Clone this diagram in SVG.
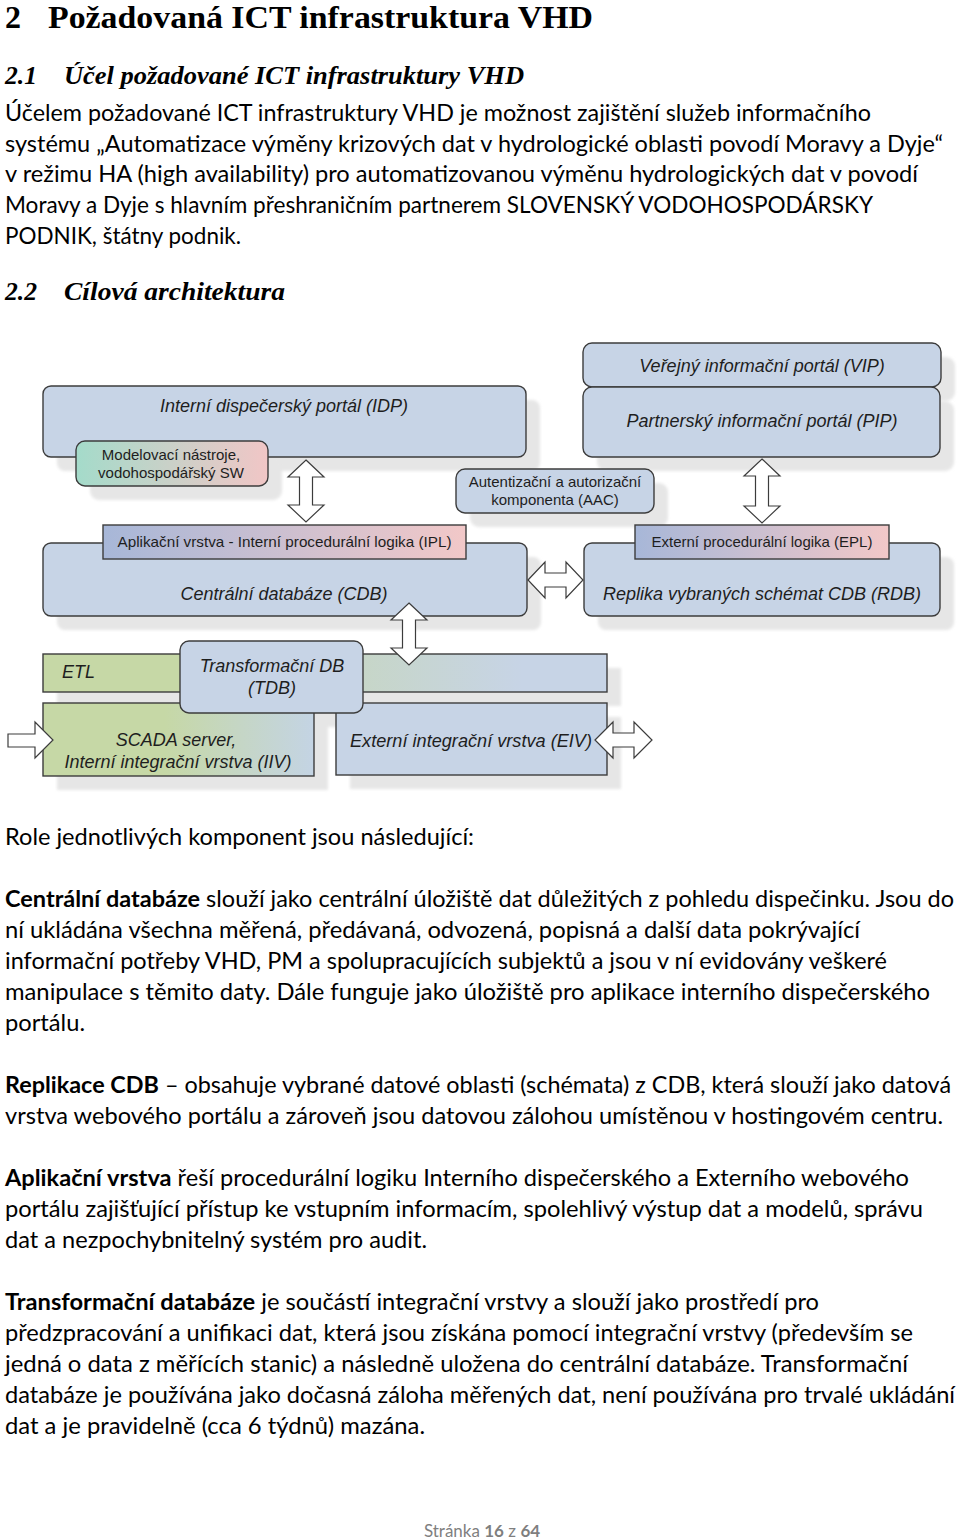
<svg xmlns="http://www.w3.org/2000/svg" width="960" height="1539" viewBox="0 0 960 1539">
<style>
.h1{font-family:"Liberation Serif",serif;font-weight:bold;font-size:32px;fill:#000}
.h2{font-family:"Liberation Serif",serif;font-weight:bold;font-style:italic;font-size:26px;fill:#000}
.b{font-family:Lato,"Liberation Sans",sans-serif;font-size:22.5px;fill:#000}
.bb{font-weight:bold}
.ft{font-family:Lato,"Liberation Sans",sans-serif;font-size:17px;fill:#7f7f7f}
.node{stroke:#3c3c3c;stroke-width:1.4}
.blue{fill:#c7d4e6}
.sh{fill:#e6e6e6;filter:url(#blur)}
.it{font-family:"Liberation Sans",Arial,sans-serif;font-style:italic;font-size:18px;fill:#1e1e1e}
.sm{font-family:"Liberation Sans",Arial,sans-serif;font-size:15px;fill:#1e1e1e}
.arr{fill:#fff;stroke:#3c3c3c;stroke-width:1.2;stroke-linejoin:miter}
</style>
<defs>
<filter id="blur" x="-10%" y="-10%" width="120%" height="120%"><feGaussianBlur stdDeviation="1.5"/></filter>
<linearGradient id="gMod" x1="0" y1="0" x2="1" y2="0"><stop offset="0" stop-color="#a4dbca"/><stop offset="1" stop-color="#f1c6c6"/></linearGradient>
<linearGradient id="gLog" x1="0" y1="0" x2="1" y2="0"><stop offset="0" stop-color="#a7b7d8"/><stop offset="1" stop-color="#f2c8c8"/></linearGradient>
<linearGradient id="gEtl" x1="0" y1="0" x2="1" y2="0"><stop offset="0" stop-color="#c6d8a6"/><stop offset="0.25" stop-color="#c6d8a6"/><stop offset="0.85" stop-color="#c7d4e6"/><stop offset="1" stop-color="#c7d4e6"/></linearGradient>
<linearGradient id="gSc" x1="0" y1="0" x2="1" y2="0"><stop offset="0" stop-color="#c6d8a6"/><stop offset="0.45" stop-color="#c6d8a6"/><stop offset="1" stop-color="#c4d4e4"/></linearGradient>
</defs>

<!-- headings and first paragraph -->
<text class="h1" x="5" y="28">2</text>
<text class="h1" x="48" y="28" textLength="545" lengthAdjust="spacingAndGlyphs">Požadovaná ICT infrastruktura VHD</text>
<text class="h2" x="5" y="84" textLength="32" lengthAdjust="spacingAndGlyphs">2.1</text>
<text class="h2" x="64" y="84" textLength="460" lengthAdjust="spacingAndGlyphs">Účel požadované ICT infrastruktury VHD</text>
<text class="b" x="5" y="121" textLength="866" lengthAdjust="spacingAndGlyphs">Účelem požadované ICT infrastruktury VHD je možnost zajištění služeb informačního</text>
<text class="b" x="5" y="152" textLength="938" lengthAdjust="spacingAndGlyphs">systému „Automatizace výměny krizových dat v hydrologické oblasti povodí Moravy a Dyje“</text>
<text class="b" x="5" y="182" textLength="913" lengthAdjust="spacingAndGlyphs">v režimu HA (high availability) pro automatizovanou výměnu hydrologických dat v povodí</text>
<text class="b" x="5" y="213" textLength="868" lengthAdjust="spacingAndGlyphs">Moravy a Dyje s hlavním přeshraničním partnerem SLOVENSKÝ VODOHOSPODÁRSKY</text>
<text class="b" x="5" y="244" textLength="236" lengthAdjust="spacingAndGlyphs">PODNIK, štátny podnik.</text>
<text class="h2" x="5" y="300" textLength="32" lengthAdjust="spacingAndGlyphs">2.2</text>
<text class="h2" x="64" y="300" textLength="221" lengthAdjust="spacingAndGlyphs">Cílová architektura</text>

<!-- shadows -->
<g id="shadows">
<rect class="sh" x="597" y="357" width="358" height="44" rx="9"/>
<rect class="sh" x="597" y="401" width="357" height="70" rx="9"/>
<rect class="sh" x="57" y="400" width="483" height="71" rx="8"/>
<rect class="sh" x="90" y="455" width="192" height="45" rx="9"/>
<rect class="sh" x="470" y="483" width="198" height="44" rx="9"/>
<rect class="sh" x="57" y="557" width="484" height="73" rx="8"/>
<rect class="sh" x="598" y="557" width="356" height="73" rx="8"/>
<rect class="sh" x="57" y="668" width="564" height="38"/>
<rect class="sh" x="194" y="655" width="183" height="72" rx="9"/>
<rect class="sh" x="57" y="717" width="271" height="73"/>
<rect class="sh" x="350" y="717" width="271" height="72"/>
</g>

<!-- nodes -->
<g id="vip"><rect class="node blue" x="583" y="343" width="358" height="44" rx="9"/><text class="it" x="762" y="372" text-anchor="middle">Veřejný informační portál (VIP)</text></g>
<g id="pip"><rect class="node blue" x="583" y="387" width="357" height="70" rx="9"/><text class="it" x="762" y="427" text-anchor="middle">Partnerský informační portál (PIP)</text></g>
<g id="idp"><rect class="node blue" x="43" y="386" width="483" height="71" rx="8"/><text class="it" x="284" y="412" text-anchor="middle">Interní dispečerský portál (IDP)</text></g>
<g id="mod"><rect class="node" fill="url(#gMod)" x="76" y="441" width="192" height="45" rx="9"/><text class="sm" x="171" y="460" text-anchor="middle">Modelovací nástroje,</text><text class="sm" x="171" y="478" text-anchor="middle">vodohospodářský SW</text></g>
<g id="aac"><rect class="node blue" x="456" y="469" width="198" height="44" rx="9"/><text class="sm" x="555" y="487" text-anchor="middle">Autentizační a autorizační</text><text class="sm" x="555" y="505" text-anchor="middle">komponenta (AAC)</text></g>
<g id="cdb"><rect class="node blue" x="43" y="543" width="484" height="73" rx="8"/><text class="it" x="284" y="600" text-anchor="middle">Centrální databáze (CDB)</text></g>
<g id="ipl"><rect class="node" fill="url(#gLog)" x="103" y="525" width="363" height="34"/><text class="sm" x="284.5" y="547" text-anchor="middle" textLength="334" lengthAdjust="spacingAndGlyphs">Aplikační vrstva - Interní procedurální logika (IPL)</text></g>
<g id="rdb"><rect class="node blue" x="584" y="543" width="356" height="73" rx="8"/><text class="it" x="762" y="600" text-anchor="middle">Replika vybraných schémat CDB (RDB)</text></g>
<g id="epl"><rect class="node" fill="url(#gLog)" x="635" y="525" width="254" height="34"/><text class="sm" x="762" y="547" text-anchor="middle">Externí procedurální logika (EPL)</text></g>
<g id="etl"><rect class="node" fill="url(#gEtl)" x="43" y="654" width="564" height="38"/><text class="it" x="62" y="678">ETL</text></g>
<g id="scada"><rect class="node" fill="url(#gSc)" x="43" y="703" width="271" height="73"/><text class="it" x="176" y="746" text-anchor="middle">SCADA server,</text><text class="it" x="178" y="768" text-anchor="middle">Interní integrační vrstva (IIV)</text></g>
<g id="eiv"><rect class="node blue" x="336" y="703" width="271" height="72"/><text class="it" x="350" y="747" textLength="242" lengthAdjust="spacingAndGlyphs">Externí integrační vrstva (EIV)</text></g>
<g id="tdb"><rect class="node blue" x="180" y="641" width="183" height="72" rx="9"/><text class="it" x="272" y="672" text-anchor="middle">Transformační DB</text><text class="it" x="272" y="694" text-anchor="middle">(TDB)</text></g>

<!-- connectors -->
<g id="connectors">
<path class="arr" d="M306,460 L324,477 L312.5,477 L312.5,505 L324,505 L306,522 L288,505 L299.5,505 L299.5,477 L288,477 Z"/>
<path class="arr" d="M762,459 L780,476 L768.5,476 L768.5,506 L780,506 L762,523 L744,506 L755.5,506 L755.5,476 L744,476 Z"/>
<path class="arr" d="M528,580 L545,562 L545,573 L566,573 L566,562 L583,580 L566,598 L566,587 L545,587 L545,598 Z"/>
<path class="arr" d="M409,603 L427,620 L415.5,620 L415.5,648 L427,648 L409,665 L391,648 L402.5,648 L402.5,620 L391,620 Z"/>
<path class="arr" d="M8,734 L35,734 L35,722 L53,740 L35,758 L35,747 L8,747 Z"/>
<path class="arr" d="M595,740 L613,722 L613,733 L634,733 L634,722 L652,740 L634,758 L634,747 L613,747 L613,758 Z"/>
</g>

<!-- body text -->
<text class="b" x="5" y="845" textLength="469" lengthAdjust="spacingAndGlyphs">Role jednotlivých komponent jsou následující:</text>
<text class="b" x="5" y="907" textLength="949" lengthAdjust="spacingAndGlyphs"><tspan class="bb">Centrální databáze</tspan> slouží jako centrální úložiště dat důležitých z pohledu dispečinku. Jsou do</text>
<text class="b" x="5" y="938" textLength="855" lengthAdjust="spacingAndGlyphs">ní ukládána všechna měřená, předávaná, odvozená, popisná a další data pokrývající</text>
<text class="b" x="5" y="969" textLength="882" lengthAdjust="spacingAndGlyphs">informační potřeby VHD, PM a spolupracujících subjektů a jsou v ní evidovány veškeré</text>
<text class="b" x="5" y="1000" textLength="925" lengthAdjust="spacingAndGlyphs">manipulace s těmito daty.  Dále funguje jako úložiště pro aplikace interního dispečerského</text>
<text class="b" x="5" y="1031" textLength="80" lengthAdjust="spacingAndGlyphs">portálu.</text>
<text class="b" x="5" y="1093" textLength="946" lengthAdjust="spacingAndGlyphs"><tspan class="bb">Replikace CDB</tspan> – obsahuje vybrané datové oblasti (schémata) z CDB, která slouží jako datová</text>
<text class="b" x="5" y="1124" textLength="938" lengthAdjust="spacingAndGlyphs">vrstva webového portálu a zároveň jsou datovou zálohou umístěnou v hostingovém centru.</text>
<text class="b" x="5" y="1186" textLength="904" lengthAdjust="spacingAndGlyphs"><tspan class="bb">Aplikační vrstva</tspan> řeší procedurální logiku Interního dispečerského a Externího webového</text>
<text class="b" x="5" y="1217" textLength="918" lengthAdjust="spacingAndGlyphs">portálu zajišťující přístup ke vstupním informacím, spolehlivý výstup dat a modelů, správu</text>
<text class="b" x="5" y="1248" textLength="422" lengthAdjust="spacingAndGlyphs">dat a nezpochybnitelný systém pro audit.</text>
<text class="b" x="5" y="1310" textLength="814" lengthAdjust="spacingAndGlyphs"><tspan class="bb">Transformační databáze</tspan> je součástí integrační vrstvy a slouží jako prostředí pro</text>
<text class="b" x="5" y="1341" textLength="908" lengthAdjust="spacingAndGlyphs">předzpracování a unifikaci dat, která jsou získána pomocí integrační vrstvy (především se</text>
<text class="b" x="5" y="1372" textLength="903" lengthAdjust="spacingAndGlyphs">jedná o data z měřících stanic) a následně uložena do centrální databáze. Transformační</text>
<text class="b" x="5" y="1403" textLength="950" lengthAdjust="spacingAndGlyphs">databáze je používána jako dočasná záloha měřených dat, není používána pro trvalé ukládání</text>
<text class="b" x="5" y="1434" textLength="420" lengthAdjust="spacingAndGlyphs">dat a je pravidelně (cca 6 týdnů) mazána.</text>
<text class="ft" x="482" y="1537" text-anchor="middle">Stránka <tspan font-weight="bold">16</tspan> z <tspan font-weight="bold">64</tspan></text>
</svg>
